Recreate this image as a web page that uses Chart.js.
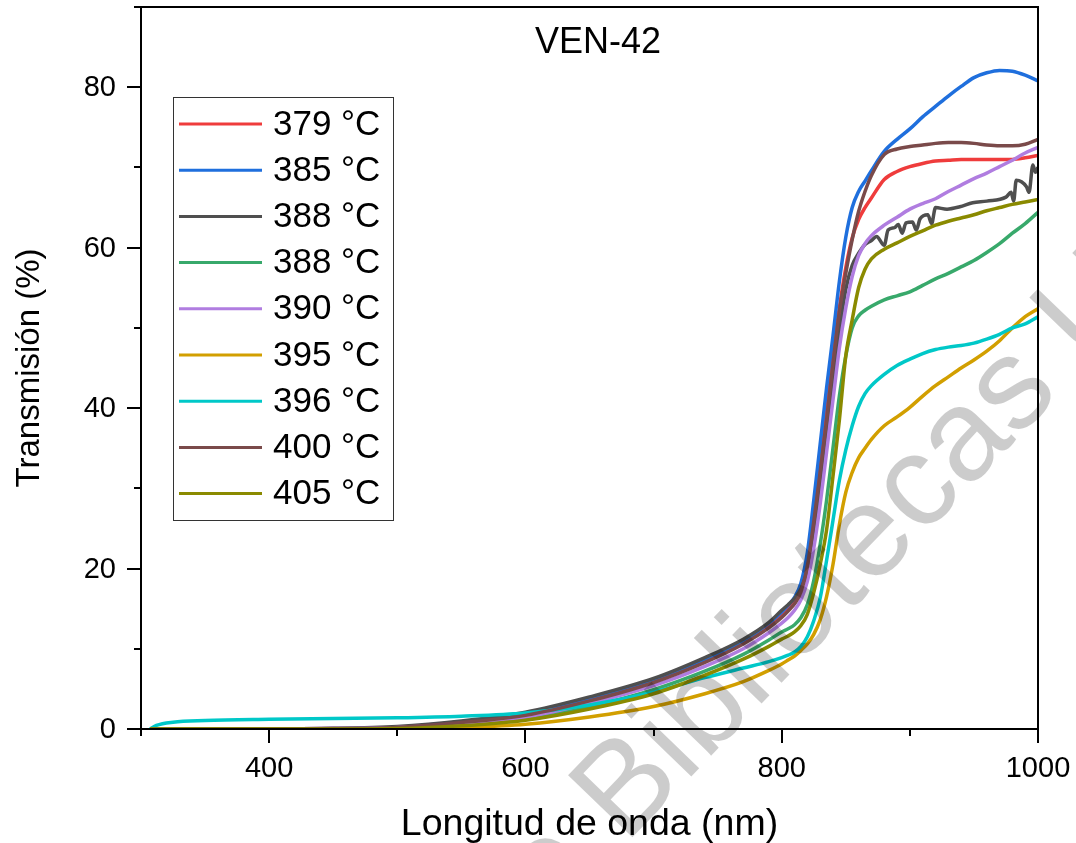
<!DOCTYPE html>
<html>
<head>
<meta charset="utf-8">
<script src="https://cdn.jsdelivr.net/npm/chart.js@4.4.1/dist/chart.umd.min.js"></script>
<style>
html, body { margin: 0; padding: 0; background: #fff; }
</style>
</head>
<body>
<canvas id="myChart" width="1076" height="843"></canvas>
<script>
// comprimentos de onda (nm)
var comprimentos = [307, 312, 325, 350, 400, 450, 500, 550, 600, 650, 700, 740, 770, 790,
	800, 805, 810, 815, 820, 825, 830, 835, 840, 845, 850, 855, 860, 865, 870,
	880, 890, 900, 910, 920, 930, 940, 950, 960, 970, 980, 990, 1000];
// a curva cinza (388 °C) tem mais ruido, entao tem a sua propria grade
var comprimentosCinza = [307, 400, 450, 500, 550, 600, 650, 700, 740, 770, 790,
	800, 805, 810, 815, 820, 825, 830, 835, 840, 845, 850, 855, 860, 865, 870, 874,
	880, 883, 888, 891, 894, 897, 902, 905, 908, 914, 917, 920, 929, 939, 949, 960,
	975, 979, 981, 983, 991, 993, 996, 998, 1000];

var rotulos = ['379 °C', '385 °C', '388 °C', '388 °C', '390 °C', '395 °C', '396 °C', '400 °C', '405 °C'];

// transmisión (%) de cada muestra
var t379 = [0, 0, 0, 0, 0, 0.05, 0.2, 0.9, 1.8, 3.6, 6.0, 8.5, 10.8, 12.9,
	14.2, 15.0, 16.0, 17.6, 20.8, 26.5, 33, 40, 46.5, 52.5, 57.5, 61.2, 63.5, 65, 66.2,
	68.5, 69.5, 70.1, 70.5, 70.8, 70.9, 71, 71, 71, 71, 71, 71.2, 71.5];
var t385 = [0, 0, 0, 0, 0, 0.05, 0.2, 0.9, 1.9, 3.7, 6.1, 8.7, 11, 13.2,
	14.6, 15.4, 16.4, 18.2, 22, 28.5, 35.5, 42.5, 49, 55.8, 61.3, 65, 67, 68.3, 69.6,
	72, 73.5, 74.8, 76.3, 77.6, 78.9, 80.1, 81.2, 81.8, 82.1, 82, 81.5, 80.8];
var t388a = [0, 0, 0.05, 0.3, 1.0, 2.1, 4.0, 6.3, 8.9, 11.2, 13.3,
	14.8, 15.5, 16.3, 17.5, 19.8, 24.5, 30, 36.5, 43, 49.5, 54.8, 57.8, 59.3, 60.4, 60.9, 61.4,
	60.3, 62.2, 62.5, 62.9, 61.8, 63.1, 63.2, 62.2, 63.6, 64.1, 63.0, 65, 64.8, 65.1, 65.6, 65.8,
	66.3, 66.9, 65.8, 68.4, 67.6, 66.9, 70.3, 69.4, 70];
var t388b = [0, 0, 0, 0, 0, 0, 0.1, 0.6, 1.3, 2.8, 4.9, 7.2, 9.3, 11.1,
	12.1, 12.5, 13, 13.9, 15.5, 18.5, 23, 28.5, 35, 41.5, 46.5, 50, 51.5, 52.2, 52.7,
	53.5, 54, 54.5, 55.3, 56.1, 56.8, 57.6, 58.4, 59.4, 60.5, 61.8, 63, 64.4];
var t390 = [0, 0, 0, 0, 0, 0.05, 0.2, 0.7, 1.5, 3.2, 5.4, 7.8, 10, 12,
	13.2, 13.9, 14.8, 16.1, 18.4, 22.5, 28, 34.5, 41, 47.5, 52.5, 56.4, 59, 60.5, 61.5,
	62.8, 63.8, 64.8, 65.5, 66.1, 67, 67.8, 68.6, 69.3, 70.1, 70.9, 71.8, 72.5];
var t395 = [0, 0, 0, 0, 0, 0, 0, 0.2, 0.6, 1.5, 2.8, 4.4, 5.9, 7.3,
	8.1, 8.6, 9.1, 9.8, 10.6, 11.8, 13.6, 16.5, 20.5, 25.5, 29.5, 32, 33.8, 35, 36.1,
	37.8, 38.9, 40.1, 41.5, 42.8, 43.9, 45, 46, 47.1, 48.4, 50, 51.4, 52.4];
var t396 = [0, 0.45, 0.85, 1.05, 1.2, 1.3, 1.4, 1.6, 2.0, 3.0, 4.6, 6.4, 7.6, 8.4,
	8.9, 9.2, 9.6, 10.3, 11.5, 13.5, 16.3, 21, 26, 31, 34.8, 37.8, 40.2, 41.8, 42.8,
	44.2, 45.3, 46.1, 46.8, 47.3, 47.6, 47.8, 48.1, 48.6, 49.2, 50, 50.5, 51.4];
var t400 = [0, 0, 0, 0, 0, 0.05, 0.2, 0.8, 1.7, 3.5, 5.8, 8.3, 10.6, 12.6,
	13.9, 14.7, 15.6, 17.1, 20.3, 25.8, 32, 38.5, 45.5, 52, 56.8, 61, 64.5, 67, 69,
	71.6, 72.3, 72.6, 72.8, 73, 73.1, 73.1, 73, 72.8, 72.7, 72.7, 72.9, 73.5];
var t405 = [0, 0, 0, 0, 0, 0, 0.05, 0.4, 1.1, 2.5, 4.4, 6.7, 8.7, 10.3,
	11.2, 11.6, 12.1, 12.9, 14.3, 17, 20.5, 24.8, 31.5, 38.5, 46.5, 51, 55, 57.3, 58.6,
	59.8, 60.6, 61.4, 62.1, 62.8, 63.3, 63.7, 64.1, 64.6, 65, 65.4, 65.7, 66];

var series = [t379, t385, t388a, t388b, t390, t395, t396, t400, t405];
var eixosX = [comprimentos, comprimentos, comprimentosCinza, comprimentos, comprimentos,
	comprimentos, comprimentos, comprimentos, comprimentos];
var cores = ['#ef3c3c', '#1f6fdd', '#4f4f4f', '#38a96b', '#b07de0', '#d29f00', '#00c8c8', '#7a4a4a', '#8a8a00'];

var ticksX = [300, 400, 500, 600, 700, 800, 900, 1000];
var rotulosX = [400, 600, 800, 1000];
var ticksY = [0, 10, 20, 30, 40, 50, 60, 70, 80, 90];
var rotulosY = [0, 20, 40, 60, 80];

var FONTE = "'Liberation Sans', Arial, sans-serif";

function montarDatasets(){
	return series.map(function(valores, i){
		var xs = eixosX[i];
		return {
			label: rotulos[i],
			data: xs.map(function(w, j){ return {x: w, y: valores[j]}; }),
			borderColor: cores[i],
			backgroundColor: cores[i],
			borderWidth: 3.5,
			pointRadius: 0,
			fill: false,
			cubicInterpolationMode: 'monotone',
			order: series.length - i
		};
	});
}

// moldura, marcas e rotulos dos eixos, titulo, marca d'agua e legenda
var extrasPlugin = {
	id: 'extras',
	afterDatasetsDraw: function(chart){
		var ctx = chart.ctx;
		// marca d'agua
		ctx.save();
		ctx.font = '130px ' + FONTE;
		ctx.fillStyle = 'rgba(0,0,0,0.2)';
		ctx.translate(625, 845);
		ctx.rotate(-46 * Math.PI / 180);
		var pre = ctx.measureText('de ').width;
		ctx.textBaseline = 'alphabetic';
		ctx.fillText('de Bibliotecas U', -pre, 0);
		ctx.restore();
	},
	afterDraw: function(chart){
		var ctx = chart.ctx, a = chart.chartArea;
		var sx = chart.scales.x, sy = chart.scales.y;
		ctx.save();
		ctx.strokeStyle = '#000';
		ctx.lineWidth = 2;
		ctx.strokeRect(a.left, a.top, a.right - a.left, a.bottom - a.top);
		ctx.beginPath();
		ticksX.forEach(function(v){
			var px = Math.round(sx.getPixelForValue(v));
			var len = rotulosX.indexOf(v) >= 0 ? 14 : 7;
			ctx.moveTo(px, a.bottom);
			ctx.lineTo(px, a.bottom + len);
		});
		ticksY.forEach(function(v){
			var py = Math.round(sy.getPixelForValue(v));
			var len = rotulosY.indexOf(v) >= 0 ? 14 : 7;
			ctx.moveTo(a.left, py);
			ctx.lineTo(a.left - len, py);
		});
		ctx.stroke();

		// rotulos dos ticks
		ctx.fillStyle = '#000';
		ctx.font = '29px ' + FONTE;
		ctx.textBaseline = 'middle';
		ctx.textAlign = 'center';
		rotulosX.forEach(function(v){
			ctx.fillText(String(v), sx.getPixelForValue(v), a.bottom + 40);
		});
		ctx.textAlign = 'right';
		rotulosY.forEach(function(v){
			ctx.fillText(String(v), a.left - 25, sy.getPixelForValue(v) + 1);
		});

		// titulo
		ctx.font = '36px ' + FONTE;
		ctx.textAlign = 'center';
		ctx.textBaseline = 'alphabetic';
		ctx.fillText('VEN-42', 598, 53);

		// legenda
		var bx = 173.5, by = 97.5, bw = 220, bh = 423;
		ctx.fillStyle = '#fff';
		ctx.fillRect(bx, by, bw, bh);
		ctx.strokeStyle = '#333';
		ctx.lineWidth = 1;
		ctx.strokeRect(bx, by, bw, bh);
		ctx.font = '35px ' + FONTE;
		ctx.textAlign = 'left';
		ctx.textBaseline = 'middle';
		rotulos.forEach(function(txt, i){
			var y = 124 + i * 46.2;
			ctx.strokeStyle = cores[i];
			ctx.lineWidth = 3;
			ctx.beginPath();
			ctx.moveTo(179, y);
			ctx.lineTo(262, y);
			ctx.stroke();
			ctx.fillStyle = '#000';
			ctx.fillText(txt, 273, y + 1);
		});
		ctx.restore();
	}
};

function renderChart(){
	var ctx = document.getElementById('myChart').getContext('2d');
	var myChart = new Chart(ctx, {
		type: 'line',
		data: { datasets: montarDatasets() },
		options: {
			responsive: false,
			animation: false,
			layout: { padding: { left: 0, right: 38, top: 7, bottom: 0 } },
			plugins: {
				legend: { display: false },
				tooltip: { enabled: false }
			},
			scales: {
				x: {
					type: 'linear',
					min: 300,
					max: 1000,
					afterBuildTicks: function(scale){
						scale.ticks = ticksX.map(function(v){ return {value: v}; });
					},
					afterFit: function(scale){ scale.height = 114; },
					grid: { display: false, drawTicks: false },
					border: { display: false },
					ticks: { display: false },
					title: {
						display: true,
						text: 'Longitud de onda (nm)',
						color: '#000',
						font: { family: FONTE, size: 37.5, lineHeight: 1 },
						padding: { top: 0, bottom: 0 }
					}
				},
				y: {
					type: 'linear',
					min: 0,
					max: 90,
					afterBuildTicks: function(scale){
						scale.ticks = ticksY.map(function(v){ return {value: v}; });
					},
					afterFit: function(scale){ scale.width = 141; },
					grid: { display: false, drawTicks: false },
					border: { display: false },
					ticks: { display: false },
					title: {
						display: true,
						text: 'Transmisión (%)',
						color: '#000',
						font: { family: FONTE, size: 33, lineHeight: 1 },
						padding: { top: 13, bottom: 0 }
					}
				}
			}
		},
		plugins: [extrasPlugin]
	});
}

renderChart();
</script>
</body>
</html>
